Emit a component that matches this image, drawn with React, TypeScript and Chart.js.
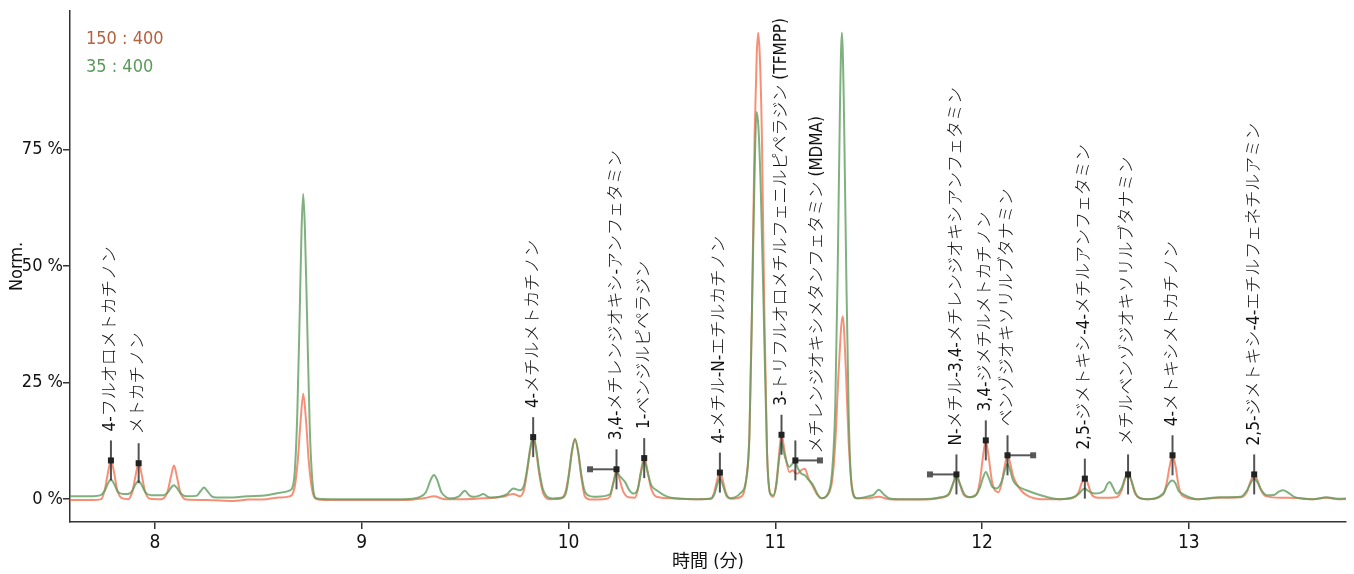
import React, { useEffect, useRef } from "react";
import { Chart, registerables } from "chart.js";
Chart.register(...registerables);

// ---------- data ----------
const seriesNames = ["150 : 400", "35 : 400"];

// retention time (min), normalized intensity (%)
const redTrace: [number, number][] = [
  [7.55, -0.2], [7.7, -0.2], [7.74, 0.0], [7.757, 2.0], [7.772, 5.5], [7.787, 8.3], [7.802, 5.8], [7.817, 2.0],
  [7.84, 0.2], [7.87, 0.0], [7.89, 1.5], [7.906, 5.0], [7.921, 7.9], [7.936, 5.2], [7.951, 1.8], [7.975, 0.1],
  [8.03, 0.0], [8.06, 1.5], [8.077, 4.8], [8.092, 7.2], [8.107, 4.6], [8.122, 1.5], [8.15, -0.1], [8.25, -0.2],
  [8.38, -0.4], [8.45, -0.1], [8.54, 0.0], [8.6, 0.35], [8.65, 0.6], [8.675, 2.5], [8.69, 8.0], [8.703, 16.0],
  [8.717, 22.6], [8.731, 16.5], [8.744, 8.0], [8.76, 2.0], [8.78, 0.0], [8.82, -0.2], [9.0, -0.2], [9.2, -0.2],
  [9.3, 0.2], [9.35, 0.6], [9.4, 0.0], [9.5, 0.0], [9.6, 0.2], [9.68, 0.5], [9.733, 1.1], [9.765, 0.6],
  [9.785, 2.0], [9.8, 6.0], [9.815, 10.5], [9.829, 13.3], [9.843, 10.5], [9.858, 5.5], [9.878, 1.2], [9.91, 0.0],
  [9.96, 0.1], [9.985, 1.5], [10.0, 5.0], [10.016, 10.0], [10.031, 12.9], [10.046, 10.2], [10.061, 5.0], [10.079, 0.6],
  [10.11, -0.1], [10.17, 0.0], [10.2, 0.5], [10.217, 3.5], [10.232, 6.2], [10.247, 4.2], [10.265, 1.6], [10.29, 0.4],
  [10.32, 0.3], [10.335, 2.0], [10.351, 6.2], [10.366, 9.0], [10.381, 6.3], [10.398, 2.5], [10.426, 0.5], [10.49, 0.2],
  [10.62, 0.0], [10.69, 0.2], [10.705, 1.5], [10.718, 4.0], [10.732, 5.8], [10.746, 4.0], [10.762, 1.3], [10.785, 0.1],
  [10.83, 0.4], [10.86, 4.5], [10.875, 14], [10.887, 40], [10.9, 78], [10.91, 95], [10.917, 100], [10.925, 95],
  [10.935, 78], [10.947, 40], [10.96, 10], [10.975, 1.2], [10.99, 0.5], [11.005, 3.5], [11.017, 9.0], [11.03, 14.0],
  [11.044, 10.5], [11.068, 5.8], [11.085, 6.2], [11.097, 5.6], [11.11, 5.5], [11.125, 6.2], [11.143, 6.5], [11.16, 4.5],
  [11.183, 2.6], [11.205, 0.8], [11.223, 0.2], [11.255, 1.0], [11.275, 4.0], [11.29, 12], [11.307, 28], [11.326, 39.2],
  [11.341, 28], [11.355, 12], [11.37, 3.0], [11.393, 0.2], [11.45, 0.2], [11.5, 0.5], [11.55, 0.0], [11.65, -0.1],
  [11.75, 0.0], [11.8, 0.3], [11.84, 1.0], [11.861, 3.5], [11.876, 5.2], [11.891, 3.5], [11.91, 1.0], [11.941, 0.4],
  [11.973, 1.0], [11.99, 4.0], [12.004, 9.0], [12.018, 12.6], [12.032, 9.0], [12.047, 4.0], [12.062, 1.9], [12.08, 1.5],
  [12.095, 3.5], [12.109, 7.0], [12.123, 9.4], [12.137, 7.5], [12.15, 5.0], [12.167, 3.3], [12.19, 1.8], [12.215, 0.85],
  [12.28, 0.0], [12.377, 0.0], [12.441, 0.3], [12.467, 1.5], [12.482, 3.5], [12.497, 4.7], [12.512, 3.3], [12.53, 1.0],
  [12.56, 0.3], [12.617, 0.3], [12.65, 0.4], [12.676, 2.0], [12.691, 4.2], [12.706, 5.5], [12.721, 4.0], [12.74, 1.2],
  [12.765, 0.2], [12.8, 0.0], [12.876, 1.0], [12.893, 3.5], [12.907, 7.0], [12.921, 9.4], [12.935, 7.2], [12.95, 3.0],
  [12.967, 0.8], [13.04, 0.0], [13.15, 0.3], [13.25, 0.4], [13.28, 1.5], [13.3, 4.0], [13.316, 5.3], [13.332, 4.0],
  [13.35, 1.8], [13.376, 0.6], [13.456, 0.3], [13.537, 0.2], [13.6, 0.0], [13.666, 0.3], [13.72, 0.0], [13.8, 0.1],
];

const greenTrace: [number, number][] = [
  [7.55, 0.64], [7.7, 0.64], [7.735, 0.8], [7.757, 1.8], [7.772, 3.3], [7.787, 4.2], [7.802, 3.3], [7.82, 1.6],
  [7.845, 1.1], [7.87, 1.1], [7.89, 1.8], [7.906, 3.2], [7.921, 3.9], [7.936, 3.0], [7.955, 1.4], [7.98, 0.85],
  [8.04, 0.85], [8.065, 1.6], [8.08, 2.6], [8.092, 3.0], [8.106, 2.4], [8.125, 1.2], [8.153, 0.6], [8.2, 0.7],
  [8.222, 1.8], [8.237, 2.5], [8.252, 1.8], [8.275, 0.6], [8.298, 0.35], [8.377, 0.35], [8.443, 0.6], [8.54, 0.85],
  [8.604, 1.35], [8.653, 1.9], [8.672, 4.0], [8.688, 18], [8.7, 40], [8.709, 58], [8.717, 65.4], [8.725, 58],
  [8.735, 40], [8.748, 16], [8.763, 3.0], [8.78, 0.2], [8.85, 0.0], [9.0, 0.0], [9.2, 0.0], [9.282, 0.5],
  [9.31, 1.5], [9.334, 4.2], [9.349, 5.2], [9.364, 4.2], [9.385, 1.5], [9.411, 0.35], [9.426, 0.15], [9.47, 0.6],
  [9.499, 1.8], [9.52, 0.8], [9.538, 0.5], [9.565, 0.7], [9.588, 1.1], [9.61, 0.5], [9.628, 0.35], [9.7, 1.0],
  [9.733, 2.3], [9.765, 1.9], [9.785, 3.0], [9.8, 6.5], [9.815, 11.0], [9.829, 13.6], [9.843, 11.0], [9.858, 6.2],
  [9.878, 1.9], [9.926, 0.15], [9.975, 0.4], [9.99, 1.8], [10.003, 5.5], [10.017, 10.5], [10.031, 12.9], [10.046, 10.4],
  [10.061, 5.5], [10.079, 1.6], [10.11, 0.6], [10.136, 0.5], [10.2, 1.0], [10.217, 3.5], [10.232, 5.8], [10.25, 4.8],
  [10.273, 3.7], [10.293, 2.0], [10.313, 1.2], [10.335, 2.2], [10.351, 5.8], [10.366, 8.3], [10.381, 6.0], [10.4, 3.0],
  [10.426, 1.9], [10.49, 0.35], [10.62, 0.0], [10.69, 0.1], [10.705, 1.0], [10.718, 3.0], [10.732, 4.4], [10.746, 3.0],
  [10.765, 0.6], [10.78, 0.2], [10.829, 1.2], [10.861, 4.7], [10.875, 14], [10.887, 40], [10.9, 70], [10.909, 83],
  [10.918, 80], [10.93, 66], [10.945, 38], [10.96, 10], [10.975, 1.2], [10.99, 0.8], [11.005, 3.0], [11.017, 8.0],
  [11.03, 12.2], [11.044, 9.5], [11.068, 6.9], [11.083, 7.6], [11.097, 7.8], [11.11, 6.5], [11.125, 5.5], [11.143, 5.1],
  [11.16, 4.2], [11.183, 3.0], [11.205, 1.0], [11.223, 0.2], [11.255, 1.2], [11.275, 6.0], [11.29, 20], [11.302, 50],
  [11.313, 85], [11.322, 100], [11.331, 86], [11.342, 52], [11.355, 18], [11.37, 2.5], [11.393, 0.2], [11.45, 0.6],
  [11.474, 0.9], [11.5, 2.0], [11.525, 1.0], [11.55, 0.2], [11.603, 0.0], [11.7, 0.0], [11.8, 0.4], [11.84, 1.2],
  [11.861, 3.5], [11.876, 5.1], [11.891, 3.5], [11.915, 1.0], [11.941, 0.4], [11.973, 1.0], [11.99, 2.5], [12.004, 4.5],
  [12.018, 5.8], [12.032, 4.6], [12.05, 2.6], [12.07, 2.3], [12.095, 3.8], [12.109, 6.0], [12.123, 7.6], [12.137, 6.0],
  [12.15, 4.0], [12.167, 3.0], [12.215, 1.9], [12.28, 0.9], [12.377, 0.0], [12.441, 0.4], [12.47, 1.2], [12.485, 2.0],
  [12.497, 2.3], [12.512, 1.8], [12.545, 1.2], [12.59, 1.8], [12.605, 3.2], [12.617, 3.7], [12.632, 2.6], [12.65, 1.2],
  [12.676, 2.5], [12.691, 4.5], [12.706, 5.5], [12.721, 4.2], [12.74, 1.5], [12.755, 0.4], [12.796, 0.0], [12.876, 1.2],
  [12.895, 2.8], [12.91, 3.8], [12.921, 4.0], [12.935, 3.4], [12.95, 1.8], [12.967, 1.2], [13.04, 0.0], [13.15, 0.4],
  [13.25, 0.5], [13.28, 1.8], [13.3, 3.5], [13.316, 4.4], [13.332, 3.6], [13.35, 2.0], [13.376, 0.85], [13.41, 0.9],
  [13.435, 1.6], [13.456, 1.9], [13.48, 1.4], [13.51, 0.5], [13.537, 0.2], [13.601, 0.0], [13.666, 0.4], [13.72, 0.1],
  [13.8, 0.2],
];

const peakNames = [
  "4-フルオロメトカチノン",
  "メトカチノン",
  "4-メチルメトカチノン",
  "3,4-メチレンジオキシ-アンフェタミン",
  "1-ベンジルピペラジン",
  "4-メチル-N-エチルカチノン",
  "3-トリフルオロメチルフェニルピペラジン (TFMPP)",
  "メチレンジオキシメタンフェタミン (MDMA)",
  "N-メチル-3,4-メチレンジオキシアンフェタミン",
  "3,4-ジメチルメトカチノン",
  "ベンゾジオキソリルブタナミン",
  "2,5-ジメトキシ-4-メチルアンフェタミン",
  "メチルベンゾジオキソリルブタナミン",
  "4-メトキシメトカチノン",
  "2,5-ジメトキシ-4-エチルフェネチルアミン",
];
const peakTimes = [7.787, 7.921, 9.829, 10.232, 10.366, 10.732, 11.03, 11.097, 11.876, 12.018, 12.123, 12.497, 12.706, 12.921, 13.316];
const peakLevels = [8.3, 7.7, 13.3, 6.4, 8.8, 5.7, 13.8, 8.3, 5.3, 12.6, 9.4, 4.4, 5.3, 9.4, 5.3];
const peakBarEnds: (number | null)[] = [null, null, null, 10.104, null, null, null, 11.216, 11.748, null, 12.247, null, null, null, null];

const xTickValues = [8, 9, 10, 11, 12, 13];
const yTickValues = [0, 25, 50, 75];

// ---------- styles ----------
const LATIN = '"Liberation Sans Narrow", "DejaVu Sans Condensed", "Noto Sans CJK JP", sans-serif';
const redLine = "rgba(245,115,85,0.8)";
const greenLine = "rgba(95,158,95,0.8)";
const redText = "#b5613f";
const greenText = "#5a9a5a";
// labels that sit beside their bar end instead of above the marker (to avoid overlap)
const labelBesideBar = new Set([7]);

const annotatePlugin = {
  id: "peakAnnotations",
  afterDatasetsDraw(chart: any) {
    const { ctx, scales, chartArea } = chart;
    const xs = scales.x;
    const ys = scales.y;
    ctx.save();
    peakTimes.forEach((t, i) => {
      const px = xs.getPixelForValue(t);
      const py = ys.getPixelForValue(peakLevels[i]);
      const bar = peakBarEnds[i];
      let bx = px;
      if (bar !== null) {
        bx = xs.getPixelForValue(bar);
        ctx.strokeStyle = "rgba(70,70,70,0.9)";
        ctx.lineWidth = 2;
        ctx.beginPath();
        ctx.moveTo(px, py);
        ctx.lineTo(bx, py);
        ctx.stroke();
        ctx.fillStyle = "rgba(80,80,80,0.95)";
        ctx.fillRect(bx - 3, py - 3, 6, 6);
      }
      ctx.strokeStyle = "rgba(40,40,40,0.8)";
      ctx.lineWidth = 2;
      ctx.beginPath();
      ctx.moveTo(px, py - 20);
      ctx.lineTo(px, py + 20);
      ctx.stroke();
      ctx.fillStyle = "#222";
      ctx.fillRect(px - 3, py - 3, 6, 6);
      ctx.save();
      if (labelBesideBar.has(i)) ctx.translate(bx - 2, py - 7);
      else ctx.translate(px, py - 29);
      ctx.rotate(-Math.PI / 2);
      ctx.font = "300 17px " + LATIN;
      ctx.fillStyle = "#111";
      ctx.textAlign = "left";
      ctx.textBaseline = "middle";
      ctx.fillText(peakNames[i], 0, 0);
      ctx.restore();
    });
    ctx.font = "18px " + LATIN;
    ctx.textAlign = "left";
    ctx.textBaseline = "middle";
    ctx.fillStyle = redText;
    ctx.fillText(seriesNames[0], chartArea.left + 16, chartArea.top + 29);
    ctx.fillStyle = greenText;
    ctx.fillText(seriesNames[1], chartArea.left + 16, chartArea.top + 57);
    ctx.restore();
  },
};

export default function App() {
  const ref = useRef<HTMLCanvasElement | null>(null);
  useEffect(() => {
    document.body.style.margin = "0";
    const canvas = ref.current;
    if (!canvas) return;
    const chart = new Chart(canvas, {
      type: "line",
      data: {
        datasets: [
          {
            label: seriesNames[1],
            data: greenTrace.map(([x, y]) => ({ x, y })),
            borderColor: greenLine,
            borderWidth: 2,
            pointRadius: 0,
            fill: false,
            cubicInterpolationMode: "monotone",
          },
          {
            label: seriesNames[0],
            data: redTrace.map(([x, y]) => ({ x, y })),
            borderColor: redLine,
            borderWidth: 2,
            pointRadius: 0,
            fill: false,
            cubicInterpolationMode: "monotone",
          },
        ],
      },
      options: {
        animation: false,
        responsive: false,
        devicePixelRatio: 1,
        parsing: false as any,
        layout: { padding: { top: 7, right: 8, left: 0, bottom: 0 } },
        plugins: { legend: { display: false }, tooltip: { enabled: false } },
        scales: {
          x: {
            type: "linear",
            min: 7.589,
            max: 13.76,
            afterBuildTicks: (s: any) => {
              s.ticks = xTickValues.map((v) => ({ value: v }));
            },
            afterFit: (s: any) => {
              s.height = 52;
            },
            grid: { drawOnChartArea: false, drawTicks: true, tickLength: 7, color: "#333", lineWidth: 1.5 },
            border: { display: true, color: "#333", width: 1.5 },
            ticks: { font: { family: LATIN, size: 19 }, color: "#111", padding: 3, maxRotation: 0 },
            title: { display: true, text: "時間 (分)", font: { family: LATIN, size: 18 }, color: "#111", padding: { top: 0, bottom: 1 } },
          },
          y: {
            type: "linear",
            min: -4.9,
            max: 104.7,
            afterBuildTicks: (s: any) => {
              s.ticks = yTickValues.map((v) => ({ value: v }));
            },
            afterFit: (s: any) => {
              s.width = 70;
            },
            grid: { drawOnChartArea: false, drawTicks: true, tickLength: 7, color: "#333", lineWidth: 1.5 },
            border: { display: true, color: "#333", width: 1.5 },
            ticks: { font: { family: LATIN, size: 18 }, color: "#111", padding: 0, callback: (v: any) => v + " %" },
            title: { display: true, text: "Norm.", font: { family: LATIN, size: 18 }, color: "#111", padding: { top: 7, bottom: 0 } },
          },
        },
      },
      plugins: [annotatePlugin],
    } as any);
    return () => chart.destroy();
  }, []);
  return (
    <div style={{ width: 1354, height: 574 }}>
      <canvas ref={ref} width={1354} height={574} style={{ display: "block" }} />
    </div>
  );
}
